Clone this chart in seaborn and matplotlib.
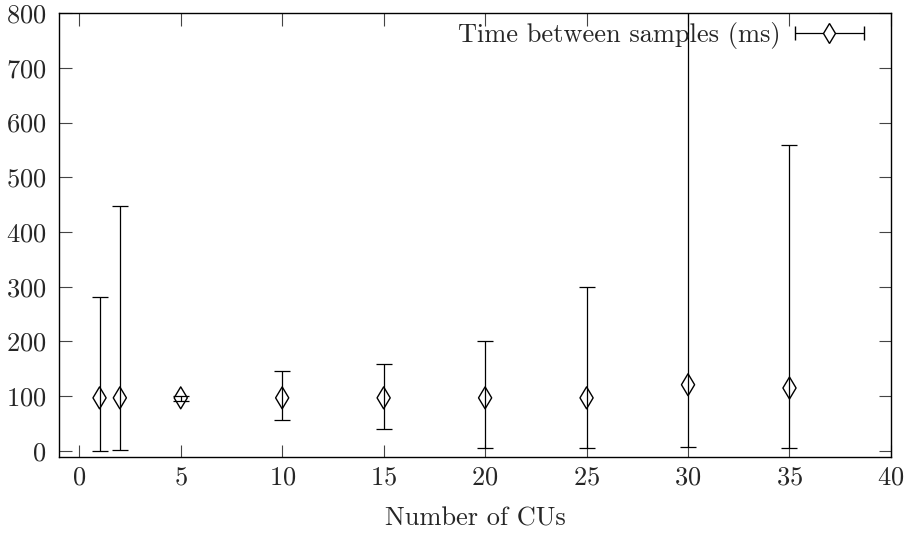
import numpy as np
import pandas as pd
import matplotlib
matplotlib.use("Agg")
import matplotlib.pyplot as plt
import seaborn as sns
from matplotlib.legend_handler import HandlerErrorbar
from matplotlib.container import ErrorbarContainer

# data
cus = [1, 2, 5, 10, 15, 20, 25, 30, 35]
mean_ms = [97, 97, 97, 97, 97, 97, 97, 121, 115]
low_ms = [0, 2, 92, 56, 41, 6, 5, 8, 6]
high_ms = [281, 447, 101, 146, 159, 201, 300, 1000, 559]
series_label = "Time between samples (ms)"
xlabel = "Number of CUs"
xticks = [0, 5, 10, 15, 20, 25, 30, 35, 40]
yticks = [0, 100, 200, 300, 400, 500, 600, 700, 800]

df = pd.DataFrame({"cus": cus, "mean": mean_ms, "low": low_ms, "high": high_ms})

sns.set_style("ticks")
plt.rcParams["font.family"] = ["cmr10", "DejaVu Serif"]
plt.rcParams["axes.formatter.use_mathtext"] = True
plt.rcParams["mathtext.fontset"] = "cm"

FS = 19

fig = plt.figure(figsize=(9.17, 5.38), dpi=100)
ax = fig.add_axes([0.0643, 0.1506, 0.9073, 0.8252])

yerr = np.array([df["mean"] - df["low"], df["high"] - df["mean"]])
ax.errorbar(df["cus"], df["mean"], yerr=yerr, fmt="none", ecolor="black",
            elinewidth=0.9, capsize=6, capthick=0.9, zorder=2)
sns.scatterplot(data=df, x="cus", y="mean", marker="d", s=125,
                facecolor="none", edgecolor="black", linewidth=1.0, ax=ax,
                zorder=3, legend=False)

# legend handle (horizontal errorbar like gnuplot)
h = ax.errorbar([np.nan], [np.nan], xerr=[1], fmt="d", color="black",
                mfc="white", mec="black", ms=10.5, mew=1.0, elinewidth=0.9,
                capsize=5, capthick=0.9, label=series_label)
leg = ax.legend(handles=[h], loc="upper right", frameon=False, markerfirst=False,
                fontsize=FS, handlelength=2.9, handletextpad=0.4,
                borderaxespad=0.0, borderpad=0.1,
                bbox_to_anchor=(0.975, 0.986),
                handler_map={ErrorbarContainer: HandlerErrorbar(xerr_size=1.3)})

ax.set_xlim(-1, 40)
ax.set_ylim(-11, 800)
ax.set_xticks(xticks)
ax.set_yticks(yticks)
ax.set_xlabel(xlabel, fontsize=FS, labelpad=13)
ax.set_ylabel("")
ax.tick_params(axis="y", pad=9)
ax.tick_params(axis="x", pad=6)
ax.tick_params(axis="both", direction="in", length=9, width=0.8, color="#444444",
               labelsize=FS, top=True, right=True)
for s in ax.spines.values():
    s.set_linewidth(1.0)
    s.set_color("black")
    s.set_visible(True)

fig.savefig("out.png", dpi=100)
